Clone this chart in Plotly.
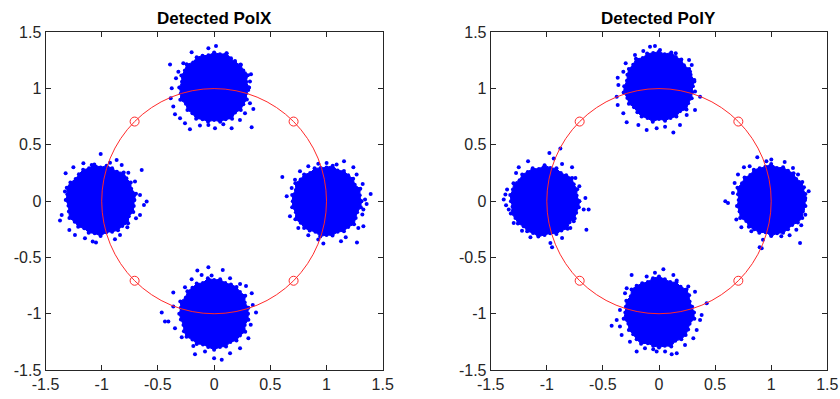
import plotly.graph_objects as go
import numpy as np

# ---- data -------------------------------------------------------------
TICKS = [-1.5, -1, -0.5, 0, 0.5, 1, 1.5]
TICK_TEXT = ["-1.5", "-1", "-0.5", "0", "0.5", "1", "1.5"]

# ideal QPSK reference points (on the unit circle)
REF_X = [0.7071, -0.7071, -0.7071, 0.7071]
REF_Y = [0.7071, 0.7071, -0.7071, -0.7071]

# dense core of each detected cluster: centre and edge radius every 10 degrees
EDGE_ANGLES = list(range(0, 360, 10))

POLX_CENTRES = [(0.0, 1.01), (-1.01, 0.01), (1.0, 0.0), (0.0, -1.0)]
POLX_EDGE_R = [
    [0.31, 0.29, 0.32, 0.30, 0.31, 0.29, 0.30, 0.32, 0.30, 0.31, 0.29, 0.30,
     0.31, 0.29, 0.32, 0.30, 0.31, 0.29, 0.31, 0.30, 0.32, 0.29, 0.31, 0.30,
     0.32, 0.30, 0.31, 0.29, 0.31, 0.30, 0.32, 0.29, 0.31, 0.30, 0.31, 0.29],
    [0.30, 0.32, 0.29, 0.31, 0.30, 0.32, 0.29, 0.30, 0.31, 0.29, 0.32, 0.30,
     0.31, 0.30, 0.29, 0.31, 0.32, 0.30, 0.31, 0.29, 0.30, 0.32, 0.30, 0.31,
     0.29, 0.31, 0.30, 0.32, 0.29, 0.30, 0.31, 0.30, 0.32, 0.29, 0.31, 0.30],
    [0.31, 0.30, 0.32, 0.29, 0.31, 0.30, 0.31, 0.29, 0.32, 0.30, 0.30, 0.31,
     0.29, 0.31, 0.30, 0.32, 0.29, 0.31, 0.30, 0.31, 0.29, 0.32, 0.30, 0.31,
     0.30, 0.29, 0.32, 0.30, 0.31, 0.29, 0.31, 0.30, 0.32, 0.30, 0.29, 0.31],
    [0.30, 0.31, 0.29, 0.32, 0.30, 0.31, 0.30, 0.29, 0.31, 0.30, 0.32, 0.29,
     0.31, 0.30, 0.31, 0.29, 0.32, 0.30, 0.31, 0.30, 0.29, 0.31, 0.32, 0.30,
     0.31, 0.29, 0.30, 0.32, 0.30, 0.31, 0.29, 0.31, 0.30, 0.32, 0.29, 0.31],
]

POLY_CENTRES = [(0.0, 1.02), (-1.02, 0.0), (1.0, 0.01), (0.0, -0.99)]
POLY_EDGE_R = [
    [0.30, 0.32, 0.30, 0.31, 0.29, 0.31, 0.30, 0.32, 0.29, 0.31, 0.30, 0.31,
     0.29, 0.32, 0.30, 0.31, 0.30, 0.29, 0.31, 0.32, 0.30, 0.31, 0.29, 0.30,
     0.31, 0.30, 0.32, 0.29, 0.31, 0.30, 0.31, 0.29, 0.32, 0.30, 0.31, 0.30],
    [0.31, 0.29, 0.31, 0.30, 0.32, 0.30, 0.29, 0.31, 0.30, 0.32, 0.29, 0.31,
     0.30, 0.31, 0.29, 0.32, 0.30, 0.31, 0.30, 0.29, 0.32, 0.30, 0.31, 0.29,
     0.31, 0.30, 0.32, 0.30, 0.29, 0.31, 0.30, 0.32, 0.29, 0.31, 0.30, 0.31],
    [0.30, 0.31, 0.30, 0.32, 0.29, 0.31, 0.30, 0.31, 0.29, 0.32, 0.30, 0.30,
     0.31, 0.29, 0.31, 0.30, 0.32, 0.30, 0.29, 0.31, 0.30, 0.32, 0.29, 0.31,
     0.30, 0.31, 0.29, 0.32, 0.30, 0.31, 0.30, 0.29, 0.31, 0.32, 0.30, 0.31],
    [0.31, 0.30, 0.29, 0.31, 0.32, 0.30, 0.31, 0.29, 0.30, 0.32, 0.31, 0.29,
     0.30, 0.31, 0.32, 0.29, 0.31, 0.30, 0.30, 0.32, 0.29, 0.31, 0.30, 0.31,
     0.32, 0.29, 0.30, 0.31, 0.30, 0.32, 0.29, 0.31, 0.31, 0.30, 0.29, 0.32],
]

# scattered outlying samples around the cluster cores
POLX_STRAY_X = [
    # top
    -0.200, -0.392, -0.051, 0.017, 0.112, 0.186, 0.236, 0.275, 0.328, 0.319, 0.304,
    0.319, 0.349, 0.275, 0.230, 0.334, 0.156, 0.082, 0.008, -0.051, -0.126, -0.215,
    -0.259, -0.303, -0.348, -0.363, -0.386, -0.377, -0.339, -0.318, -0.274,
    # left
    -1.009, -1.252, -1.321, -1.327, -1.356, -1.371, -1.288, -1.238, -1.149, -1.080,
    -1.051, -0.882, -0.837, -0.772, -0.695, -0.659, -0.624, -0.600, -0.659, -0.704,
    -0.763, -0.822, -0.644, -0.926, -0.867, -1.089, -1.163,
    # right
    0.607, 1.156, 1.239, 1.268, 1.322, 1.393, 1.343, 1.357, 1.328, 1.319, 1.328,
    1.283, 1.271, 1.171, 1.129, 0.972, 0.927, 0.838, 0.749, 0.675, 0.646, 0.690,
    0.720, 0.764, 0.838, 0.927, 1.001, 1.090,
    # bottom
    -0.051, -0.149, 0.077, -0.022, 0.142, 0.231, 0.284, 0.335, 0.373, 0.344, 0.326,
    0.305, 0.231, 0.142, 0.068, 0.000, -0.081, -0.170, -0.185, -0.288, -0.348,
    -0.437, -0.407, -0.466, -0.363, -0.363, -0.259, -0.200, -0.111,
]
POLX_STRAY_Y = [
    1.322, 1.215, 1.358, 1.378, 1.313, 1.245, 1.215, 1.136, 1.127, 1.062, 0.988,
    0.869, 0.819, 0.780, 0.721, 0.656, 0.647, 0.683, 0.647, 0.677, 0.671, 0.638,
    0.692, 0.736, 0.771, 0.840, 0.914, 1.002, 1.091, 1.150, 1.224,
    0.419, 0.301, 0.248, 0.085, -0.123, -0.173, -0.256, -0.300, -0.330, -0.359,
    -0.368, -0.339, -0.300, -0.232, -0.152, -0.123, -0.034, -0.004, 0.055, 0.174,
    0.253, 0.321, 0.277, 0.342, 0.366, 0.321, 0.336,
    0.215, 0.354, 0.301, 0.236, 0.153, 0.064, 0.014, -0.025, -0.075, -0.119, -0.223,
    -0.238, -0.368, -0.321, -0.356, -0.377, -0.341, -0.303, -0.238, -0.134, 0.043,
    0.117, 0.191, 0.265, 0.310, 0.333, 0.339, 0.325,
    -0.587, -0.617, -0.611, -0.661, -0.685, -0.735, -0.753, -0.818, -0.990, -0.922,
    -1.099, -1.218, -1.307, -1.351, -1.410, -1.395, -1.336, -1.360, -1.286, -1.209,
    -1.129, -1.070, -1.070, -0.990, -0.937, -0.812, -0.765, -0.694, -0.655,
]

POLY_STRAY_X = [
    # top
    -0.080, -0.036, 0.009, 0.149, 0.268, 0.292, 0.277, 0.315, 0.321, 0.366, 0.321,
    0.247, 0.187, 0.128, 0.054, -0.021, -0.110, -0.184, -0.288, -0.318, -0.368,
    -0.377, -0.362, -0.368, -0.318, -0.297, -0.214, -0.140,
    # left
    -1.167, -1.250, -1.274, -1.354, -1.369, -1.384, -1.363, -1.339, -1.295, -1.221,
    -1.146, -1.072, -0.968, -0.953, -0.864, -0.790, -0.760, -0.671, -0.627, -0.647,
    -0.656, -0.710, -0.745, -0.775, -0.864, -0.938, -0.977, -0.879,
    # right
    0.876, 0.957, 1.001, 1.120, 1.194, 1.239, 1.292, 1.334, 1.304, 1.283, 1.304,
    1.268, 1.224, 1.257, 1.164, 1.090, 1.001, 0.927, 0.897, 0.823, 0.734, 0.689,
    0.615, 0.591, 0.659, 0.674, 0.704, 0.757, 0.808, 0.915,
    # bottom
    0.039, -0.244, -0.110, -0.036, 0.128, 0.158, 0.261, 0.321, 0.425, 0.380, 0.366,
    0.336, 0.306, 0.232, 0.158, 0.113, 0.054, -0.021, -0.051, -0.125, -0.199,
    -0.259, -0.333, -0.422, -0.348, -0.377, -0.348, -0.303, -0.288,
]
POLY_STRAY_Y = [
    1.372, 1.378, 1.343, 1.313, 1.254, 1.210, 1.150, 1.062, 0.973, 0.928, 0.810,
    0.766, 0.677, 0.609, 0.662, 0.647, 0.632, 0.677, 0.700, 0.780, 0.854, 0.928,
    1.032, 1.097, 1.150, 1.224, 1.298, 1.334,
    0.354, 0.301, 0.251, 0.103, 0.058, 0.014, -0.037, -0.075, -0.194, -0.262,
    -0.321, -0.303, -0.371, -0.410, -0.327, -0.238, -0.179, -0.075, -0.075, -0.253,
    0.028, 0.132, 0.206, 0.301, 0.330, 0.378, 0.428, 0.467,
    0.390, 0.354, 0.369, 0.348, 0.295, 0.236, 0.123, 0.088, 0.028, -0.075, -0.120,
    -0.214, -0.253, -0.371, -0.303, -0.312, -0.303, -0.342, -0.410, -0.268, -0.232,
    -0.164, -0.016, -0.001, 0.073, 0.162, 0.236, 0.301, 0.310, -0.418,
    -0.605, -0.655, -0.670, -0.635, -0.655, -0.706, -0.759, -0.804, -0.907, -1.011,
    -1.055, -1.144, -1.218, -1.277, -1.351, -1.360, -1.336, -1.336, -1.316, -1.307,
    -1.336, -1.248, -1.188, -1.108, -1.114, -1.055, -0.966, -0.818, -0.774,
]

TITLES = ["Detected PolX", "Detected PolY"]

# ---- styling ----------------------------------------------------------
BLUE = "#0000ff"
RED = "#ff2a2a"
AXIS = "#262626"
FONT = "Liberation Sans, Arial, Helvetica, sans-serif"

W, H = 840, 399
X_DOMAINS = [(45.5 / W, 382.7 / W), (490.7 / W, 827.3 / W)]
Y_DOMAIN = ((H - 370.0) / H, (H - 32.3) / H)

fig = go.Figure()

panels = [
    (POLX_CENTRES, POLX_EDGE_R, POLX_STRAY_X, POLX_STRAY_Y),
    (POLY_CENTRES, POLY_EDGE_R, POLY_STRAY_X, POLY_STRAY_Y),
]
ang = np.deg2rad(EDGE_ANGLES)

for i, (centres, radii, sx, sy) in enumerate(panels):
    xa = "x" if i == 0 else "x2"
    ya = "y" if i == 0 else "y2"
    for (cx, cy), r in zip(centres, radii):
        r = np.asarray(r)
        ex = cx + r * np.cos(ang)
        ey = cy + r * np.sin(ang)
        fig.add_trace(go.Scatter(
            x=np.append(ex, ex[0]), y=np.append(ey, ey[0]),
            mode="lines+markers", fill="toself", fillcolor=BLUE,
            line=dict(color=BLUE, width=1),
            marker=dict(color=BLUE, size=4),
            xaxis=xa, yaxis=ya, showlegend=False, hoverinfo="skip",
        ))
    fig.add_trace(go.Scatter(
        x=sx, y=sy, mode="markers",
        marker=dict(color=BLUE, size=4),
        xaxis=xa, yaxis=ya, showlegend=False,
    ))
    # unit circle drawn above the samples
    fig.add_shape(type="circle", xref=xa, yref=ya, x0=-1, y0=-1, x1=1, y1=1,
                  line=dict(color=RED, width=1), layer="above")
    fig.add_trace(go.Scatter(
        x=REF_X, y=REF_Y, mode="markers",
        marker=dict(symbol="circle-open", color=RED, size=9,
                    line=dict(width=1, color=RED)),
        xaxis=xa, yaxis=ya, showlegend=False,
    ))
    fig.add_annotation(
        text="<b>%s</b>" % TITLES[i], xref="paper", yref="paper",
        x=sum(X_DOMAINS[i]) / 2, y=(H - 18.5) / H,
        xanchor="center", yanchor="middle", showarrow=False,
        font=dict(family=FONT, size=17, color="#000000"),
    )

axis_common = dict(
    range=[-1.5, 1.5], tickvals=TICKS, ticktext=TICK_TEXT,
    ticks="inside", ticklen=5, tickwidth=1, tickcolor=AXIS,
    showline=True, linecolor=AXIS, linewidth=1, mirror="allticks",
    showgrid=False, zeroline=False, automargin=False,
    tickfont=dict(family=FONT, size=16, color=AXIS),
)

fig.update_layout(
    width=W, height=H,
    margin=dict(l=0, r=0, t=0, b=0),
    paper_bgcolor="white", plot_bgcolor="white",
    xaxis=dict(domain=X_DOMAINS[0], anchor="y", **axis_common),
    yaxis=dict(domain=Y_DOMAIN, anchor="x", **axis_common),
    xaxis2=dict(domain=X_DOMAINS[1], anchor="y2", **axis_common),
    yaxis2=dict(domain=Y_DOMAIN, anchor="x2", **axis_common),
)

fig.write_html("out.html")
